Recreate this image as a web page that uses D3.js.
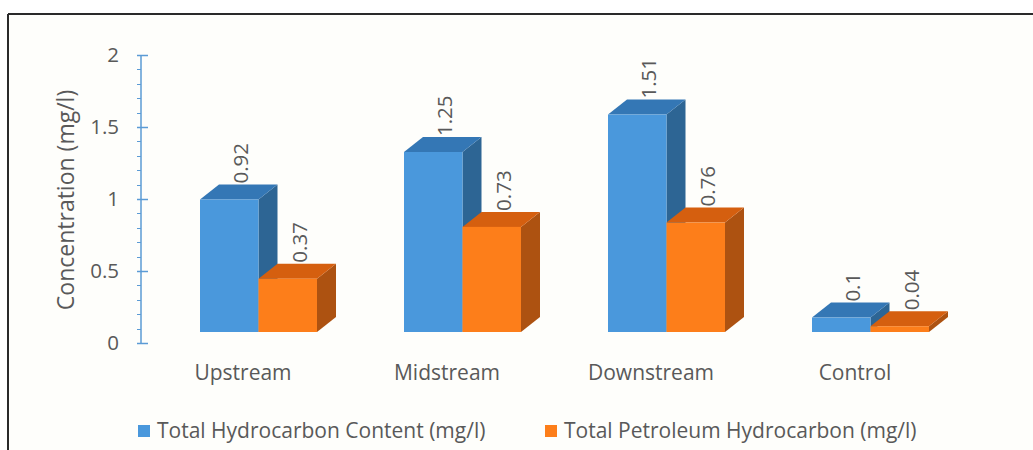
<!DOCTYPE html>
<html><head><meta charset="utf-8">
<script src="https://cdn.jsdelivr.net/npm/d3@7"></script>
<style>
body{margin:0;background:#fff;}
svg{display:block;}
text{font-family:"Open Sans",sans-serif;fill:#595959;}
</style></head>
<body><svg id="c" width="1033" height="450"></svg>
<script>
const categories = ["Upstream","Midstream","Downstream","Control"];
const seriesNames = ["Total Hydrocarbon Content (mg/l)","Total Petroleum Hydrocarbon (mg/l)"];
const thcValues = [0.92,1.25,1.51,0.1];
const tphValues = [0.37,0.73,0.76,0.04];
const yTicks = [0,0.5,1,1.5,2];

const series = [thcValues, tphValues];
const colors = [
  {front:"#4a98dc", top:"#3477b5", side:"#2d6594"},
  {front:"#fd7e1a", top:"#d55f0f", side:"#ad5211"}
];

const svg = d3.select("#c");
// frame
svg.append("rect").attr("x",8).attr("y",14).attr("width",1040).attr("height",450).attr("fill","#fefefb");
svg.append("line").attr("x1",8).attr("x2",1033).attr("y1",14).attr("y2",14).attr("stroke","#2a2a2a").attr("stroke-width",2);
svg.append("line").attr("x1",8).attr("x2",8).attr("y1",14).attr("y2",450).attr("stroke","#2a2a2a").attr("stroke-width",2);

const axisX = 141;
const y = d3.scaleLinear().domain([0,2]).range([343,55]);
const yBar = d3.scaleLinear().domain([0,2]).range([332,44]);
const x0 = d3.scaleBand().domain(categories).range([141,957]).padding(0);
const x1 = d3.scaleBand().domain([0,1]).range([0,117]).padding(0);
const groupOffset = 59;
const dx = 19, dy = 15;
const FS = 20.5;

// y axis
const g = svg.append("g");
g.append("line").attr("x1",axisX).attr("x2",axisX).attr("y1",y(0)).attr("y2",y(2)).attr("stroke","#5b9bd5").attr("stroke-width",1.5);
const minor = d3.range(0,2.0001,0.1);
g.selectAll("line.minor").data(minor).join("line").attr("class","minor")
  .attr("x1",axisX-4).attr("x2",axisX).attr("y1",d=>Math.round(y(d))+0.5).attr("y2",d=>Math.round(y(d))+0.5)
  .attr("stroke","#5b9bd5").attr("stroke-width",1);
g.selectAll("line.major").data(yTicks).join("line").attr("class","major")
  .attr("x1",axisX-4).attr("x2",axisX+7).attr("y1",d=>Math.round(y(d))+0.5).attr("y2",d=>Math.round(y(d))+0.5)
  .attr("stroke","#5b9bd5").attr("stroke-width",1.5);
g.selectAll("text.tick").data(yTicks).join("text").attr("class","tick")
  .attr("x",119).attr("y",d=>y(d)+7).attr("text-anchor","end").attr("font-size",FS).text(d=>d);

svg.append("text").attr("transform","translate(74,200) rotate(-90)").attr("text-anchor","middle")
  .attr("font-size",23).text("Concentration (mg/l)");

// bars
categories.forEach((cat,ci)=>{
  [0,1].forEach(si=>{
    const v = series[si][ci];
    const xl = x0(cat)+groupOffset+x1(si);
    const w = x1.bandwidth();
    const yt = yBar(v), yb = yBar(0);
    const c = colors[si];
    const bg = svg.append("g");
    bg.append("path").attr("d",`M${xl+w},${yb}L${xl+w+dx},${yb-dy}L${xl+w+dx},${yt-dy}L${xl+w},${yt}Z`).attr("fill",c.side);
    bg.append("path").attr("d",`M${xl},${yt}L${xl+dx},${yt-dy}L${xl+w+dx},${yt-dy}L${xl+w},${yt}Z`).attr("fill",c.top);
    bg.append("rect").attr("x",xl).attr("y",yt).attr("width",w).attr("height",yb-yt).attr("fill",c.front);
    const lx = xl + w/2 + dx, ly = yt - dy - 1;
    svg.append("text").attr("transform",`translate(${lx},${ly}) rotate(-90)`).attr("font-size",FS).text(v);
  });
});

// category labels
svg.selectAll("text.cat").data(categories).join("text").attr("class","cat")
  .attr("x",d=>x0(d)+x0.bandwidth()/2).attr("y",380).attr("text-anchor","middle").attr("font-size",21).text(d=>d);

// legend
const legX = [138,545];
seriesNames.forEach((n,i)=>{
  svg.append("rect").attr("x",legX[i]).attr("y",425).attr("width",12).attr("height",12).attr("fill",colors[i].front);
  svg.append("text").attr("x",legX[i]+19).attr("y",438).attr("font-size",21).text(n);
});
</script></body></html>
